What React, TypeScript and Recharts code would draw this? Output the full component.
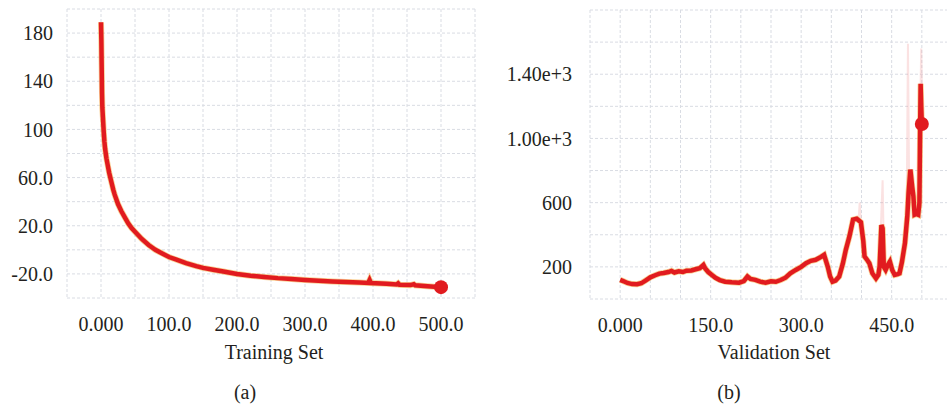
import React from "react";
import { CartesianGrid, Line, LineChart, XAxis, YAxis } from "recharts";

// (a) training set loss
const trainSteps = [
  0, 0.5, 1, 1.5, 2, 3, 4, 5, 6, 8, 10, 12, 15, 18, 20, 25, 30, 35, 40, 45, 50,
  60, 70, 80, 90, 100, 110, 125, 140, 150, 165, 180, 200, 220, 240, 260, 280,
  300, 320, 340, 360, 380, 393, 395, 397, 420, 435, 437, 439, 455, 460, 462,
  480, 500,
];
const trainLoss = [
  189, 175, 152, 130, 118, 108, 98, 90, 84, 76, 70, 64, 57, 50, 46, 38, 32, 27,
  22, 18, 15, 9, 4, 0, -3, -6, -8, -11, -13.5, -15, -16.5, -18, -20, -21.5,
  -22.5, -23.5, -24.2, -25, -25.6, -26.2, -26.7, -27.2, -27.5, -25, -27.6,
  -28.2, -28.7, -27.8, -29, -29.3, -28.6, -29.5, -30.2, -31,
];
const trainXTicks = [-50, 0, 50, 100, 150, 200, 250, 300, 350, 400, 450, 500, 550];
const trainXLabelled = [0, 100, 200, 300, 400, 500];
const trainXLabels = ["0.000", "100.0", "200.0", "300.0", "400.0", "500.0"];
const trainYTicks = [-40, -20, 0, 20, 40, 60, 80, 100, 120, 140, 160, 180, 200];
const trainYLabelled = [-20, 20, 60, 100, 140, 180];
const trainYLabels = ["-20.0", "20.0", "60.0", "100", "140", "180"];

// (b) validation set loss
const valSteps = [
  0, 5, 12, 20, 28, 35, 42, 50, 58, 65, 72, 80, 85, 90, 97, 104, 110, 118, 125,
  132, 138, 141, 146, 152, 158, 165, 174, 185, 197, 205, 211, 216, 224, 232,
  241, 250, 258, 266, 274, 282, 291, 300, 308, 316, 324, 331, 338, 344, 348,
  352, 357, 363, 369, 374, 380, 386, 392, 399, 403, 405, 410, 413, 418, 424,
  428, 430, 433, 435, 437, 440, 444, 447, 451, 455, 460, 463, 467, 472, 476,
  478, 481, 484, 486, 488, 491, 494, 496, 497, 498, 499, 500,
];
const valLoss = [
  119, 112, 100, 93, 92, 98, 115, 135, 148, 158, 162, 168, 175, 165, 172, 168,
  176, 178, 185, 192, 212, 190, 168, 150, 132, 118, 108, 104, 102, 112, 140,
  125, 119, 108, 102, 110, 107, 118, 133, 160, 181, 200, 223, 238, 244, 258,
  275, 202, 140, 108, 115, 140, 220, 306, 390, 494, 500, 478, 360, 265, 240,
  223, 160, 129, 150, 202, 460, 440, 200, 181, 215, 233, 180, 150, 155, 160,
  230, 348, 520, 660, 806, 700, 640, 525, 530, 525, 600, 1000, 1340, 1200,
  1090,
];
// faint raw spikes behind the smoothed curve
const valRawSteps = [395, 397, 399, 400, 432, 435, 437, 438, 475, 477, 479, 480, 496, 499, 501];
const valRawLoss = [480, 600, 470, null, 440, 740, 300, null, 600, 1590, 700, null, 900, 1560, 1100];
const valXTicks = [-50, 0, 50, 100, 150, 200, 250, 300, 350, 400, 450, 500, 550];
const valXLabelled = [0, 150, 300, 450];
const valXLabels = ["0.000", "150.0", "300.0", "450.0"];
const valYTicks = [0, 200, 400, 600, 800, 1000, 1200, 1400, 1600, 1800];
const valYLabelled = [200, 600, 1000, 1400];
const valYLabels = ["200", "600", "1.00e+3", "1.40e+3"];

const RED = "#e11b1f";
const HALO = "#f3a12a";
const GRID = "#d9dce3";
const TEXT = "#231f20";
const FONT = "'Liberation Serif', 'Times New Roman', serif";

const trainData = trainSteps.map((step, i) => ({ step, loss: trainLoss[i] }));
const valData = valSteps.map((step, i) => ({ step, loss: valLoss[i] }));
const valRawData = valRawSteps.map((step, i) => ({ step, raw: valRawLoss[i] }));

const labeller = (keys: number[], labels: string[]) => (v: number) => {
  const i = keys.indexOf(v);
  return i >= 0 ? labels[i] : "";
};

const endDot = (last: number) => (props: any) => {
  const { cx, cy, index } = props;
  if (index !== last) return <g key={`dot-${index}`} />;
  return <circle key={`dot-${index}`} cx={cx} cy={cy} r={7} fill={RED} />;
};

const tickStyle = { fill: TEXT, fontSize: 20, fontFamily: FONT };

const caption: React.CSSProperties = {
  position: "absolute",
  fontFamily: FONT,
  fontSize: 20,
  color: TEXT,
  transform: "translate(-50%, -50%)",
  whiteSpace: "nowrap",
};

export default function App() {
  return (
    <div
      style={{
        position: "fixed",
        left: 0,
        top: 0,
        width: 947,
        height: 407,
        overflow: "hidden",
        background: "#fff",
        fontFamily: FONT,
      }}
    >
      <div style={{ position: "absolute", left: 0, top: 0 }}>
        <LineChart
          width={480}
          height={407}
          data={trainData}
          margin={{ top: 9, right: 5, bottom: 79, left: 0 }}
          style={{ fontFamily: FONT }}
        >
          <CartesianGrid stroke={GRID} strokeDasharray="3 2" />
          <XAxis
            dataKey="step"
            type="number"
            domain={[-50, 550]}
            ticks={trainXTicks}
            tickFormatter={labeller(trainXLabelled, trainXLabels)}
            tick={tickStyle}
            axisLine={false}
            tickLine={false}
            tickSize={0}
            tickMargin={19}
            height={30}
            interval={0}
          />
          <YAxis
            type="number"
            domain={[-40, 200]}
            ticks={trainYTicks}
            tickFormatter={labeller(trainYLabelled, trainYLabels)}
            tick={tickStyle}
            axisLine={false}
            tickLine={false}
            tickSize={0}
            tickMargin={14}
            width={67}
            interval={0}
          />
          <Line
            dataKey="loss"
            type="linear"
            stroke={HALO}
            strokeWidth={6}
            strokeOpacity={0.5}
            dot={false}
            isAnimationActive={false}
          />
          <Line
            dataKey="loss"
            type="linear"
            stroke={RED}
            strokeWidth={4.5}
            dot={endDot(trainData.length - 1)}
            isAnimationActive={false}
          />
        </LineChart>
      </div>

      <div style={{ position: "absolute", left: 480, top: 0 }}>
        <LineChart
          width={480}
          height={407}
          margin={{ top: 10, right: 8, bottom: 78, left: 0 }}
          style={{ fontFamily: FONT }}
        >
          <CartesianGrid stroke={GRID} strokeDasharray="3 2" />
          <XAxis
            dataKey="step"
            type="number"
            domain={[-50, 550]}
            ticks={valXTicks}
            tickFormatter={labeller(valXLabelled, valXLabels)}
            tick={tickStyle}
            axisLine={false}
            tickLine={false}
            tickSize={0}
            tickMargin={19}
            height={30}
            interval={0}
            allowDuplicatedCategory={false}
          />
          <YAxis
            type="number"
            domain={[0, 1800]}
            ticks={valYTicks}
            tickFormatter={labeller(valYLabelled, valYLabels)}
            tick={tickStyle}
            axisLine={false}
            tickLine={false}
            tickSize={0}
            tickMargin={18}
            width={110}
            interval={0}
          />
          <Line
            data={valRawData}
            dataKey="raw"
            type="linear"
            stroke="#f08a8a"
            strokeWidth={2}
            strokeOpacity={0.25}
            dot={false}
            isAnimationActive={false}
          />
          <Line
            data={valData}
            dataKey="loss"
            type="linear"
            stroke={HALO}
            strokeWidth={6}
            strokeOpacity={0.5}
            dot={false}
            isAnimationActive={false}
          />
          <Line
            data={valData}
            dataKey="loss"
            type="linear"
            stroke={RED}
            strokeWidth={4.5}
            dot={endDot(valData.length - 1)}
            isAnimationActive={false}
          />
        </LineChart>
      </div>

      <div style={{ ...caption, left: 274, top: 352 }}>Training Set</div>
      <div style={{ ...caption, left: 245, top: 392 }}>(a)</div>
      <div style={{ ...caption, left: 774, top: 352 }}>Validation Set</div>
      <div style={{ ...caption, left: 729, top: 392 }}>(b)</div>
    </div>
  );
}
